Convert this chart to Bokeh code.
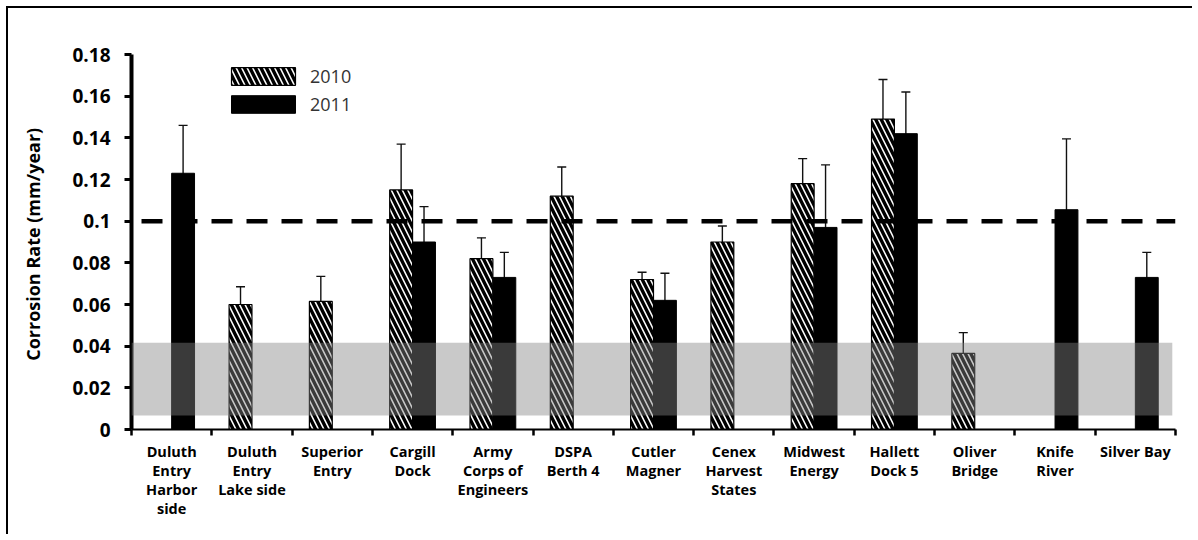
from bokeh.plotting import figure
from bokeh.models import (ColumnDataSource, FixedTicker, Whisker, TeeHead, Span,
                          BoxAnnotation, Legend, LegendItem, CustomJSTickFormatter)
from bokeh.embed import file_html
from bokeh.resources import INLINE

categories = ["Duluth\nEntry\nHarbor\nside", "Duluth\nEntry\nLake side", "Superior\nEntry",
              "Cargill\nDock", "Army\nCorps of\nEngineers", "DSPA\nBerth 4", "Cutler\nMagner",
              "Cenex\nHarvest\nStates", "Midwest\nEnergy", "Hallett\nDock 5", "Oliver\nBridge",
              "Knife\nRiver", "Silver Bay"]
rate_2010 = [None, 0.060, 0.0615, 0.115, 0.082, 0.112, 0.072, 0.090, 0.118, 0.149, 0.0365, None, None]
err_2010 = [None, 0.0085, 0.012, 0.022, 0.010, 0.014, 0.0035, 0.0077, 0.012, 0.019, 0.010, None, None]
rate_2011 = [0.123, None, None, 0.090, 0.073, None, 0.062, None, 0.097, 0.142, None, 0.1055, 0.073]
err_2011 = [0.023, None, None, 0.017, 0.012, None, 0.013, None, 0.030, 0.020, None, 0.034, 0.012]
band = [0.0067, 0.0416]
threshold = 0.1
y_ticks = [0, 0.02, 0.04, 0.06, 0.08, 0.1, 0.12, 0.14, 0.16, 0.18]

BW = 0.285
FONT = "Open Sans"


def make_source(vals, errs, offset):
    xs, tops, ups, lows = [], [], [], []
    for i, (v, e) in enumerate(zip(vals, errs)):
        if v is None:
            continue
        xs.append(i + 0.5 + offset)
        tops.append(v)
        ups.append(v + e)
        lows.append(v - e)
    return ColumnDataSource(dict(x=xs, top=tops, upper=ups, lower=lows))


s10 = make_source(rate_2010, err_2010, -BW / 2)
s11 = make_source(rate_2011, err_2011, BW / 2)

p = figure(width=1186, height=528, x_range=(0, len(categories)), y_range=(0, 0.18),
           output_backend="svg", toolbar_location=None,
           min_border_left=123, min_border_right=19, min_border_top=46, min_border_bottom=107)
p.styles = {"margin-left": "6px", "margin-top": "6px",
            "border-left": "2px solid black", "border-top": "2px solid black"}
p.grid.visible = False
p.outline_line_color = None

r10 = p.vbar(x="x", top="top", width=BW, source=s10, fill_color="white",
             line_color="black", line_width=1.2, hatch_pattern="\\", hatch_color="black",
             hatch_scale=11, hatch_weight=3.4)
r11 = p.vbar(x="x", top="top", width=BW, source=s11, fill_color="black",
             line_color="black", line_width=1)

for src in (s10, s11):
    w = Whisker(base="x", upper="upper", lower="lower", source=src,
                line_color="#111111", line_width=1.4,
                upper_head=TeeHead(size=9, line_color="#111111", line_width=1.4),
                lower_head=TeeHead(size=9, line_color="#111111", line_width=1.4))
    p.add_layout(w)

p.add_layout(BoxAnnotation(bottom=band[0], top=band[1], left=0, right=12.96,
                           fill_color="#838383", fill_alpha=0.44, line_color=None))
p.add_layout(Span(location=threshold, dimension="width", line_color="black",
                  line_width=4.5, line_dash="21 14", line_dash_offset=-10))

# y axis
ya = p.yaxis[0]
ya.ticker = FixedTicker(ticks=y_ticks)
ya.formatter = CustomJSTickFormatter(code="return tick.toFixed(2).replace(/0+$/,'').replace(/\\.$/,'')")
ya.axis_line_width = 4
ya.axis_line_color = "black"
ya.major_tick_line_width = 3
ya.major_tick_out = 7
ya.major_tick_in = 0
ya.minor_tick_line_color = None
ya.major_label_text_font = FONT
ya.major_label_text_font_style = "bold"
ya.major_label_text_font_size = "19px"
ya.major_label_text_color = "black"
ya.major_label_standoff = 14
ya.axis_label = "Corrosion  Rate (mm/year)"
ya.axis_label_text_font = FONT
ya.axis_label_text_font_style = "bold"
ya.axis_label_text_font_size = "18px"
ya.axis_label_text_color = "black"
ya.axis_label_standoff = 24

# x axis
xa = p.xaxis[0]
centers = [i + 0.5 for i in range(len(categories))]
xa.ticker = FixedTicker(ticks=centers, minor_ticks=list(range(len(categories) + 1)))
xa.major_label_overrides = {c: lab for c, lab in zip(centers, categories)}
xa.major_tick_line_color = None
xa.minor_tick_line_color = "black"
xa.minor_tick_line_width = 2.5
xa.minor_tick_out = 6
xa.minor_tick_in = 0
xa.axis_line_width = 2
xa.axis_line_color = "black"
xa.major_label_text_font = FONT
xa.major_label_text_font_style = "bold"
xa.major_label_text_font_size = "14.5px"
xa.major_label_text_color = "black"
xa.major_label_text_line_height = 1.0
xa.major_label_standoff = 6

legend = Legend(items=[LegendItem(label="2010", renderers=[r10]),
                       LegendItem(label="2011", renderers=[r11])],
                location=(92, 313), glyph_width=80, glyph_height=22, label_height=18,
                spacing=4, padding=0, margin=0, border_line_color=None,
                background_fill_alpha=0, label_standoff=7,
                label_text_font=FONT, label_text_font_size="18px",
                label_text_line_height=1.0, label_text_color="#333333")
p.add_layout(legend)

open("out.html", "w").write(file_html(p, INLINE))
